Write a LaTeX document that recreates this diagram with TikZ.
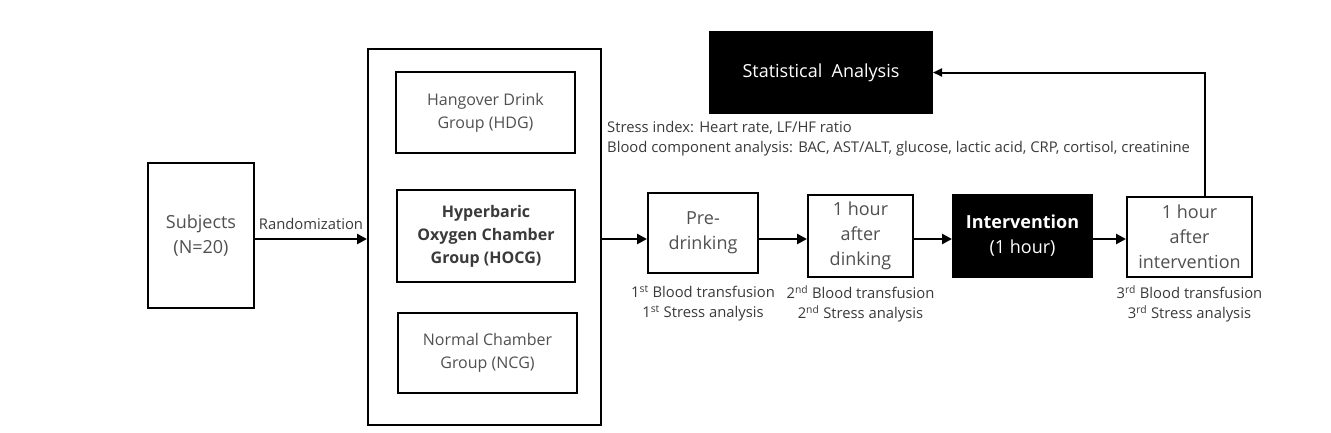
\documentclass[tikz,border=0pt]{standalone}
\usepackage{fontspec}
\setmainfont{Open Sans}
\usetikzlibrary{arrows.meta}
\definecolor{txtgray}{HTML}{505050}
\definecolor{lblgray}{HTML}{3A3A3A}
\begin{document}
\begin{tikzpicture}[x=1pt,y=-1pt,
  box/.style={draw=black,line width=2pt,fill=white,text=txtgray,align=center,inner sep=0pt},
  dark/.style={draw=black,line width=2pt,fill=black,text=white,align=center,inner sep=0pt},
  arr/.style={line width=2.6pt,-{Triangle[length=10pt,width=10pt]}},
  thinarr/.style={line width=2pt,-{Triangle[length=9pt,width=8pt]}},
  lbl/.style={text=lblgray,font=\fontsize{14.8}{20.5}\selectfont,align=center,inner sep=0pt},
  big/.style={font=\fontsize{18}{25}\selectfont},
  mid/.style={font=\fontsize{16}{23}\selectfont},
]
\useasboundingbox[fill=white] (0,0) rectangle (1331,432);

% left part
\node[box,big,minimum width=106pt,minimum height=145pt] (subj) at (201,235.5) {Subjects\\(N=20)};
\node[box,minimum width=233pt,minimum height=376pt] (outer) at (484.5,237) {};
\node[box,mid,minimum width=179pt,minimum height=81pt] (hdg) at (485.5,112.5) {Hangover Drink\\Group (HDG)};
\node[box,mid,text=lblgray,minimum width=178pt,minimum height=92pt] (hocg) at (486,236) {\textbf{Hyperbaric}\\\textbf{Oxygen Chamber}\\\textbf{Group (HOCG)}};
\node[box,mid,minimum width=179pt,minimum height=80pt] (ncg) at (487.5,353) {Normal Chamber\\Group (NCG)};

% timeline
\node[box,big,minimum width=110pt,minimum height=80pt] (pre) at (703,233) {Pre-\\drinking};
\node[box,big,minimum width=105pt,minimum height=82pt] (aft) at (860.5,236) {1 hour\\after\\dinking};
\node[dark,big,minimum width=139pt,minimum height=82pt] (int) at (1022.5,236) {\textbf{Intervention}\\(1 hour)};
\node[box,big,minimum width=125pt,minimum height=80pt] (aint) at (1189.5,237) {1 hour\\after\\intervention};
\node[dark,big,minimum width=222pt,minimum height=81pt] (stat) at (821,72.5) {Statistical~ Analysis};

\coordinate (lev) at (0,239);
\draw[arr] (subj.east |- lev) -- (outer.west |- lev) node[midway,above=8pt,lbl] (rand) {Randomization};
\draw[arr] (outer.east |- lev) -- (pre.west |- lev);
\draw[arr] (pre.east |- lev) -- (aft.west |- lev);
\draw[arr] (aft.east |- lev) -- (int.west |- lev);
\draw[arr] (int.east |- lev) -- (aint.west |- lev);

\coordinate (up) at (1205,72.5);
\draw[thinarr] (aint.north -| up) -- (up) -- (stat.east |- up);

% texts
\node[lbl,anchor=north west,align=left] (idx) at (607,121) {Stress index: Heart rate, LF/HF ratio\\Blood component analysis: BAC, AST/ALT, glucose, lactic acid, CRP, cortisol, creatinine};

\node[lbl,anchor=north] (l1) at (pre.south |- 0,285) {1\textsuperscript{st} Blood transfusion\\1\textsuperscript{st} Stress analysis};
\node[lbl,anchor=north] (l2) at (aft.south |- 0,285) {2\textsuperscript{nd} Blood transfusion\\2\textsuperscript{nd} Stress analysis};
\node[lbl,anchor=north] (l3) at (aint.south |- 0,285) {3\textsuperscript{rd} Blood transfusion\\3\textsuperscript{rd} Stress analysis};
\end{tikzpicture}
\end{document}
